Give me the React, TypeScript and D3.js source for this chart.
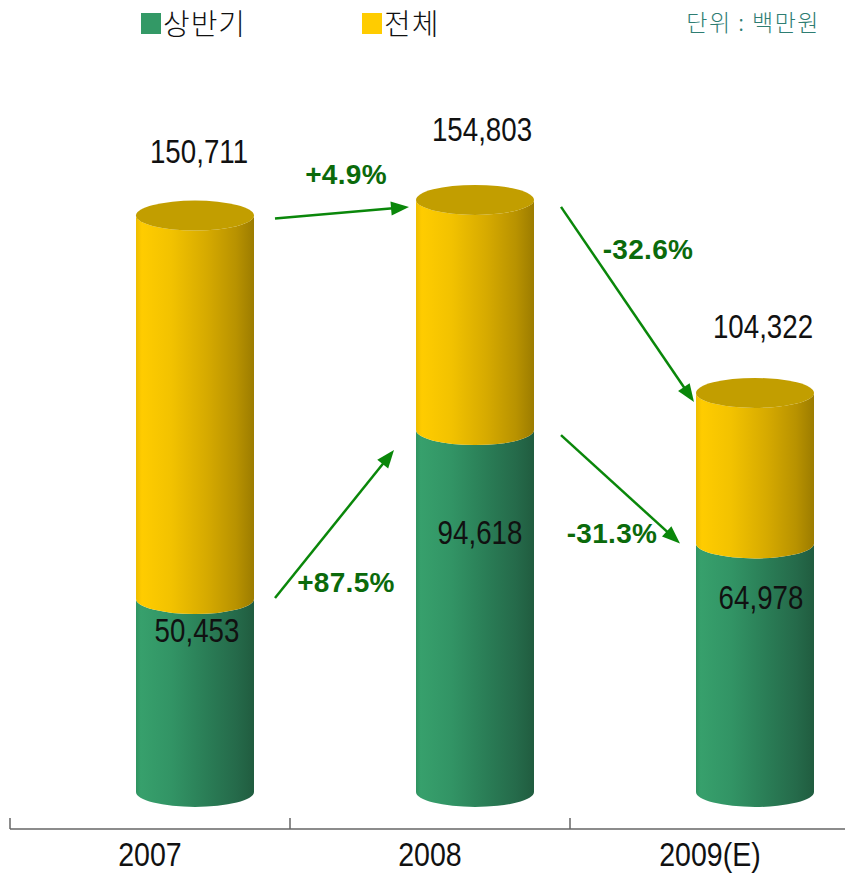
import React from "react";
import * as d3 from "d3";

const categories = ["2007", "2008", "2009(E)"];
const firstHalf = [50453, 94618, 64978];
const total = [150711, 154803, 104322];
const totalGrowthLabels = ["+4.9%", "-32.6%"];
const halfGrowthLabels = ["+87.5%", "-31.3%"];
const legendLabels = ["상반기", "전체"];
const unitLabel = "단위 : 백만원";

const W = 845;
const H = 873;
const SANS = "'Liberation Sans', Arial, Helvetica, sans-serif";
const KR = "'Noto Sans CJK KR', 'Noto Sans', sans-serif";
const NARROW_SCALE = 0.84;

function NarrowText(props: { x: number; y: number; size: number; children: React.ReactNode }) {
  return (
    <text
      transform={`translate(${props.x},${props.y}) scale(${NARROW_SCALE},1)`}
      textAnchor="middle"
      fontFamily={SANS}
      fontSize={props.size}
      fill="#111"
    >
      {props.children}
    </text>
  );
}

export default function App() {
  const x = d3.scaleBand<string>().domain(categories).range([10, 850]);
  const y = d3.scaleLinear().domain([0, 160000]).range([792, 792 - 160000 * 0.003825]);
  const depthShift = 45;
  const cx = (i: number) => (x(categories[i]) as number) + x.bandwidth() / 2 + depthShift;
  const rx = 59;
  const ry = 15;
  const base = y(0);

  const bodyPath = (c: number, yBottom: number, yTop: number) =>
    `M${c - rx},${yTop} L${c - rx},${yBottom} A${rx},${ry} 0 0 0 ${c + rx},${yBottom} L${c + rx},${yTop} A${rx},${ry} 0 0 1 ${c - rx},${yTop} Z`;

  const arrowColor = "#0a870a";
  const labelGreen = "#0b6a0b";

  const arrows = [
    { x1: cx(0) + 80, y1: y(total[0]) + 3, x2: cx(1) - 66, y2: y(total[1]) + 7, label: totalGrowthLabels[0], lx: 346, ly: 184 },
    { x1: cx(0) + 80, y1: y(firstHalf[0]) - 1, x2: cx(1) - 81, y2: y(firstHalf[1]) + 20, label: halfGrowthLabels[0], lx: 346, ly: 592 },
    { x1: cx(1) + 86, y1: y(total[1]) + 7, x2: cx(2) - 61, y2: y(total[2]) + 9, label: totalGrowthLabels[1], lx: 648, ly: 259 },
    { x1: cx(1) + 86, y1: y(firstHalf[1]) + 5, x2: cx(2) - 75, y2: y(firstHalf[2]), label: halfGrowthLabels[1], lx: 612, ly: 543 },
  ];

  const totalLabelDy = [-53, -59, -55];
  const halfLabelDy = [43, 114, 66];
  const labelDx = [4, 7, 8];

  const arrowHead = (a: typeof arrows[0]) => {
    const ang = Math.atan2(a.y2 - a.y1, a.x2 - a.x1);
    const len = 18;
    const hw = 7;
    const bx = a.x2 - len * Math.cos(ang);
    const by = a.y2 - len * Math.sin(ang);
    const px = -Math.sin(ang) * hw;
    const py = Math.cos(ang) * hw;
    return { line: [bx + 2 * Math.cos(ang), by + 2 * Math.sin(ang)], pts: `${a.x2},${a.y2} ${bx + px},${by + py} ${bx - px},${by - py}` };
  };

  return (
    <svg width={W} height={H} style={{ position: "absolute", left: 0, top: 0, background: "#fff" }}>
      <defs>
        <linearGradient id="gGreen" x1="0" x2="1" y1="0" y2="0">
          <stop offset="0" stopColor="#2f9360" />
          <stop offset="0.04" stopColor="#37a06c" />
          <stop offset="0.3" stopColor="#329465" />
          <stop offset="0.6" stopColor="#2a7d56" />
          <stop offset="0.85" stopColor="#256a4a" />
          <stop offset="1" stopColor="#205c3f" />
        </linearGradient>
        <linearGradient id="gYellow" x1="0" x2="1" y1="0" y2="0">
          <stop offset="0" stopColor="#eebd00" />
          <stop offset="0.05" stopColor="#ffcc00" />
          <stop offset="0.3" stopColor="#f2c200" />
          <stop offset="0.6" stopColor="#d6aa00" />
          <stop offset="0.85" stopColor="#b89200" />
          <stop offset="1" stopColor="#9c7c00" />
        </linearGradient>
      </defs>

      {/* legend */}
      <rect x={141} y={13} width={20} height={21} fill="#339966" />
      <text x={163} y={35} fontFamily={KR} fontSize={29} fontWeight={300} letterSpacing={1} fill="#111">{legendLabels[0]}</text>
      <rect x={362} y={13} width={20} height={21} fill="#ffcc00" />
      <text x={384} y={35} fontFamily={KR} fontSize={29} fontWeight={300} letterSpacing={1} fill="#111">{legendLabels[1]}</text>
      <text x={820} y={31} textAnchor="end" fontFamily={KR} fontSize={23} fontWeight={300} letterSpacing={1.5} fill="#2e7d72" xmlSpace="preserve">{unitLabel}</text>

      {/* cylinders */}
      {categories.map((c, i) => {
        const cc = cx(i);
        const yG = y(firstHalf[i]);
        const yT = y(total[i]);
        return (
          <g key={c}>
            <path d={bodyPath(cc, base, yG)} fill="url(#gGreen)" />
            <path d={bodyPath(cc, yG, yT)} fill="url(#gYellow)" />
            <ellipse cx={cc} cy={yT} rx={rx} ry={ry} fill="#c29e00" />
          </g>
        );
      })}

      {/* value labels */}
      {categories.map((c, i) => (
        <g key={"l" + c}>
          <NarrowText x={cx(i) + labelDx[i]} y={y(total[i]) + totalLabelDy[i]} size={33}>{d3.format(",")(total[i])}</NarrowText>
          <NarrowText x={cx(i) + labelDx[i] - 2} y={y(firstHalf[i]) + halfLabelDy[i]} size={33}>{d3.format(",")(firstHalf[i])}</NarrowText>
        </g>
      ))}

      {/* arrows */}
      {arrows.map((a, i) => {
        const h = arrowHead(a);
        return (
          <g key={"a" + i}>
            <line x1={a.x1} y1={a.y1} x2={h.line[0]} y2={h.line[1]} stroke={arrowColor} strokeWidth={2.5} />
            <polygon points={h.pts} fill={arrowColor} />
            <text x={a.lx} y={a.ly} textAnchor="middle" fontFamily={SANS} fontWeight="bold" fontSize={28} letterSpacing={0.3} fill={labelGreen}>{a.label}</text>
          </g>
        );
      })}

      {/* axis */}
      <line x1={10} x2={845} y1={829} y2={829} stroke="#666" strokeWidth={1.5} />
      {[0, 1, 2].map((i) => {
        const tx = x(categories[i]) as number;
        return <line key={"t" + i} x1={tx} x2={tx} y1={818} y2={829} stroke="#666" strokeWidth={1.5} />;
      })}
      {categories.map((c) => (
        <NarrowText key={"x" + c} x={(x(c) as number) + x.bandwidth() / 2} y={866} size={34}>{c}</NarrowText>
      ))}
    </svg>
  );
}
